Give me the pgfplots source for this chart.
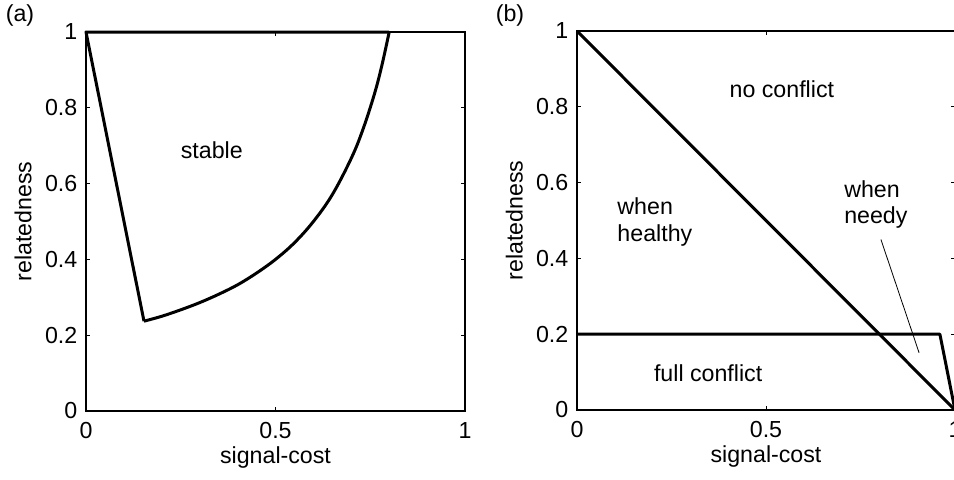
\documentclass[border=0pt]{standalone}
\usepackage{fontspec}
\setmainfont{Liberation Sans}
\usepackage{pgfplots}
\pgfplotsset{compat=1.18}
\newcommand{\ff}{\fontsize{11.6}{13.4}\selectfont}
\pgfplotsset{
  panel/.style={
    scale only axis,
    height=189.5pt,
    xmin=0, xmax=1, ymin=0, ymax=1,
    xtick={0,0.5,1},
    ytick={0,0.2,0.4,0.6,0.8,1},
    tick align=inside,
    major tick length=2pt,
    tick style={line width=0.4pt, black},
    axis line style={line width=0.75pt},
    /pgf/number format/assume math mode=true,
    ticklabel style={font=\ff},
    xticklabel style={yshift=-2.2pt},
    yticklabel style={xshift=-0.8pt},
    label style={font=\ff},
    xlabel={signal-cost},
    ylabel={relatedness},
    xlabel style={at={(axis description cs:0.5,-0.124)}, anchor=center},
    ylabel style={at={(axis description cs:-0.166,0.5)}, anchor=center},
    clip=false,
  },
}
\begin{document}
\begin{tikzpicture}
\useasboundingbox (0,0) rectangle (477pt,239.5pt);
\node[font=\ff] at (10pt,232pt) {(a)};
\node[font=\ff] at (255pt,232pt) {(b)};

\begin{axis}[panel, width=189.5pt, at={(43pt,34pt)}, anchor=south west]
\addplot[line width=1.5pt, black, line join=round] coordinates {
 (0.80,1.0) (0.0,1.0) (0.153,0.237)
};
\addplot[line width=1.5pt, black, smooth, tension=0.6] coordinates {
 (0.153,0.237) (0.20,0.250) (0.25,0.267) (0.30,0.286) (0.35,0.308)
 (0.40,0.333) (0.45,0.364) (0.50,0.400) (0.55,0.444) (0.60,0.500)
 (0.65,0.571) (0.70,0.667) (0.73,0.741) (0.76,0.833) (0.78,0.909) (0.80,1.0)
};
\node[font=\ff] at (axis cs:0.332,0.689) {stable};
\end{axis}

\begin{axis}[panel, width=189pt, at={(288.5pt,34.5pt)}, anchor=south west]
\addplot[line width=1.5pt, black] coordinates {(0,1) (1,0)};
\addplot[line width=1.5pt, black, line join=round] coordinates {(0,0.2) (0.96,0.2) (1,0)};
\addplot[line width=0.4pt, black] coordinates {(0.804,0.45) (0.905,0.151)};
\node[font=\ff] at (axis cs:0.542,0.847) {no conflict};
\node[font=\ff] at (axis cs:0.347,0.098) {full conflict};
\node[font=\ff, align=left, anchor=west, inner sep=0pt] at (axis cs:0.106,0.497) {when\\healthy};
\node[font=\ff, align=left, anchor=west, inner sep=0pt] at (axis cs:0.706,0.542) {when\\needy};
\end{axis}
\end{tikzpicture}
\end{document}
